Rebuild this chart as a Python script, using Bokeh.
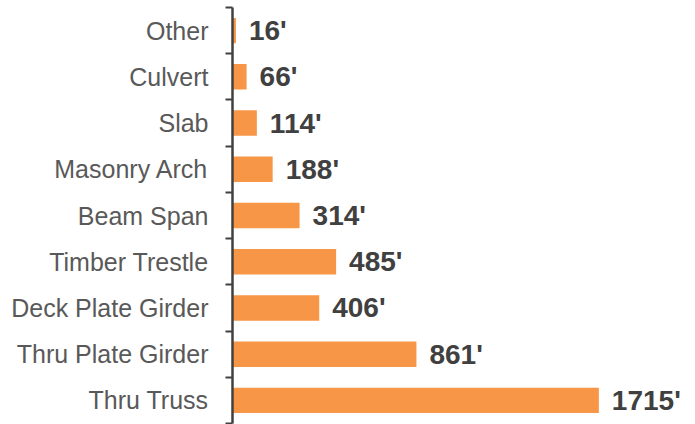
from bokeh.plotting import figure
from bokeh.models import Range1d, FixedTicker, ColumnDataSource
from bokeh.core.properties import value
from bokeh.embed import file_html
from bokeh.resources import INLINE

# Data (top to bottom as shown)
categories = ["Other", "Culvert", "Slab", "Masonry Arch", "Beam Span",
              "Timber Trestle", "Deck Plate Girder", "Thru Plate Girder", "Thru Truss"]
lengths_ft = [16, 66, 114, 188, 314, 485, 406, 861, 1715]

n = len(categories)
# bottom category at position 0, top at n-1
positions = [n - 1 - i for i in range(n)]
boundaries = [k - 0.5 for k in range(n + 1)]
labels = [f"{v}'" for v in lengths_ft]

src = ColumnDataSource(dict(y=positions, v=lengths_ft, lab=labels, cat=categories))

p = figure(width=690, height=424, output_backend="svg", toolbar_location=None,
           x_range=Range1d(0, 2144), y_range=Range1d(-0.5, n - 0.5),
           min_border_left=232, min_border_right=0, min_border_top=7, min_border_bottom=1)

p.hbar(y="y", right="v", left=0, height=0.55, source=src,
       fill_color="#F79646", line_color=None)

p.text(x="v", y="y", text="lab", source=src, x_offset=13,
       text_font=value("Liberation Sans"), text_font_style="bold",
       text_font_size="28px", text_color="#404040",
       text_align="left", text_baseline="middle")

p.xaxis.visible = False
p.xgrid.visible = False
p.ygrid.visible = False
p.outline_line_color = None

ax = p.yaxis[0]
ax.ticker = FixedTicker(ticks=positions, minor_ticks=boundaries)
ax.major_label_overrides = {pos: cat for pos, cat in zip(positions, categories)}
ax.major_tick_out = 0
ax.major_tick_in = 0
ax.minor_tick_out = 7
ax.minor_tick_in = 0
ax.minor_tick_line_color = "#404040"
ax.minor_tick_line_width = 2
ax.axis_line_color = "#404040"
ax.axis_line_width = 2.5
ax.major_label_standoff = 17
ax.major_label_text_font = "Liberation Sans"
ax.major_label_text_font_size = "25px"
ax.major_label_text_color = "#595959"

open("out.html", "w").write(file_html(p, INLINE))
